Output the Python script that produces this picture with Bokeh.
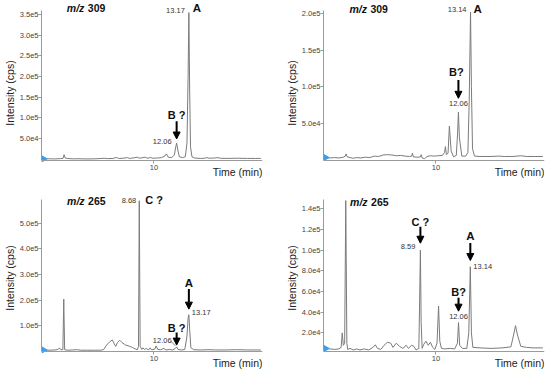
import math
from bokeh.plotting import figure
from bokeh.models import FixedTicker, Label, Arrow, NormalHead, Range1d
from bokeh.layouts import gridplot
from bokeh.embed import file_html
from bokeh.resources import INLINE

# ---------------- data: time (min) and intensity (thousands of cps) ----------------
# top-left: m/z 309
time_309_a = [
    0.0, 0.5, 1.0, 1.5, 1.75, 1.85, 1.95, 2.3, 2.7, 3.2,
    3.8, 4.5, 5.0, 5.5, 5.8, 6.3, 6.6, 6.8, 7.2, 7.6,
    7.8, 8.2, 8.5, 8.7, 9.0, 9.2, 9.4, 9.7, 9.9, 10.3,
    10.7, 11.0, 11.13, 11.3, 11.6, 11.85, 11.98, 12.06, 12.15, 12.3,
    12.6, 12.85, 13.0, 13.1, 13.17, 13.24, 13.32, 13.45, 13.7, 14.2,
    14.6, 14.8, 15.0, 15.5, 15.8, 16.0, 16.8, 17.6, 18.5, 19.2,
    19.7]
kcps_309_a = [
    1.0, 1.2, 0.8, 1.5, 2, 11, 3, 1.5, 1.0, 1.2,
    0.8, 1.0, 1.5, 2.5, 1.5, 2.0, 4.5, 2.0, 2.5, 4.0,
    2.0, 3.5, 5, 2.5, 4, 5, 2.5, 4, 2.5, 3,
    4, 8, 13, 5, 4, 10, 30, 39, 25, 6,
    4, 6, 40, 200, 355, 170, 30, 6, 3, 2,
    2.5, 4, 2.5, 3, 4, 2.5, 2, 2.5, 2, 2,
    2]

# top-right: m/z 309
time_309_b = [
    0.0, 0.4, 0.8, 1.2, 1.6, 1.78, 1.85, 1.95, 2.2, 2.5,
    2.8, 3.2, 3.6, 4.0, 4.4, 4.8, 5.2, 5.6, 6.0, 6.4,
    6.8, 7.2, 7.6, 7.8, 7.87, 7.95, 8.3, 8.6, 8.66, 8.75,
    8.96, 9.2, 9.5, 9.8, 10.2, 10.6, 10.78, 10.86, 10.95, 11.1,
    11.22, 11.38, 11.6, 11.85, 11.96, 12.04, 12.13, 12.35, 12.7, 12.9,
    13.02, 13.14, 13.22, 13.32, 13.5, 14.0, 15.0, 15.7, 16.2, 17.0,
    17.7, 18.2, 19.0, 19.7]
kcps_309_b = [
    3, 2.5, 3, 2.5, 3.5, 5, 8, 4, 3, 2,
    3, 2.5, 3.5, 3, 5, 4.5, 6.5, 7, 6.5, 5.5,
    6, 5, 4.5, 5, 9, 4, 3.5, 4, 7, 2.5,
    1.5, 4.5, 5.5, 5, 5.5, 6, 10, 18, 7, 9,
    46, 12, 4, 6, 35, 65, 30, 5, 5, 10,
    80, 202, 100, 15, 5, 4.5, 4.5, 5, 4.5, 4.5,
    5.5, 4.5, 4.5, 4.5]

# bottom-left: m/z 265
time_265_a = [
    0.0, 0.5, 1.0, 1.3, 1.42, 1.55, 1.74, 1.82, 1.9, 2.2,
    2.6, 3.0, 3.4, 4.0, 4.6, 5.2, 5.45, 5.7, 6.0, 6.23,
    6.4, 6.53, 6.7, 6.89, 7.1, 7.44, 7.8, 8.05, 8.3, 8.5,
    8.6, 8.67, 8.75, 8.9, 9.0, 9.15, 9.3, 9.5, 9.65, 9.8,
    10.1, 10.2, 10.35, 10.6, 10.9, 11.1, 11.4, 11.7, 11.95, 12.06,
    12.18, 12.5, 12.8, 13.0, 13.1, 13.17, 13.25, 13.35, 13.6, 14.2,
    15.0, 15.6, 16.5, 17.5, 18.5, 19.7]
kcps_265_a = [
    6, 5, 6, 8, 14, 7, 7, 204, 7, 5,
    6, 7, 5, 5, 5, 5, 8, 25, 38, 45,
    30, 20, 35, 44, 35, 25, 20, 16, 10, 7,
    20, 587, 20, 8, 14, 8, 12, 6, 14, 6,
    10, 22, 8, 7, 12, 6, 8, 6, 12, 18,
    8, 6, 8, 60, 130, 143, 80, 15, 7, 6,
    7, 6, 6, 7, 6, 6]

# bottom-right: m/z 265
time_265_b = [
    0.0, 0.4, 0.8, 1.2, 1.4, 1.5, 1.6, 1.72, 1.82, 1.92,
    2.0, 2.2, 2.5, 2.8, 3.1, 3.5, 3.9, 4.3, 4.5, 4.7,
    5.0, 5.3, 5.6, 5.9, 6.1, 6.4, 6.7, 7.0, 7.3, 7.5,
    7.8, 8.0, 8.2, 8.45, 8.52, 8.59, 8.66, 8.75, 8.9, 9.1,
    9.3, 9.5, 9.7, 9.9, 10.1, 10.24, 10.35, 10.5, 10.8, 11.3,
    11.7, 11.95, 12.05, 12.15, 12.4, 12.8, 12.98, 13.12, 13.22, 13.35,
    14.0, 15.0, 16.0, 16.8, 17.05, 17.22, 17.4, 17.7, 18.2, 18.8,
    19.7]
kcps_265_b = [
    5, 4.5, 4, 4.5, 6, 20, 8, 10, 148, 10,
    4, 5, 3.5, 4.5, 3.5, 4.5, 3.5, 6, 8.5, 5,
    4, 8, 11, 10, 6, 10, 7, 5, 8, 5,
    8, 7, 3.5, 5, 50, 100, 30, 5, 9, 12,
    8, 11, 6, 4, 10, 46, 12, 5, 4.5, 5,
    4.5, 10, 30, 8, 5, 5, 20, 84, 20, 6,
    5.5, 5, 5.5, 6.5, 18, 27, 18, 7, 6, 5.5,
    5.5]

# y-axis ticks and their labels
yticks_309_a = [50000, 100000, 150000, 200000, 250000, 300000, 350000]
ylabels_309_a = ["5.0e4", "1.0e5", "1.5e5", "2.0e5", "2.5e5", "3.0e5", "3.5e5"]
yticks_309_b = [50000, 100000, 150000, 200000]
ylabels_309_b = ["5.0e4", "1.0e5", "1.5e5", "2.0e5"]
yticks_265_a = [100000, 200000, 300000, 400000, 500000]
ylabels_265_a = ["1.0e5", "2.0e5", "3.0e5", "4.0e5", "5.0e5"]
yticks_265_b = [20000, 40000, 60000, 80000, 100000, 120000, 140000]
ylabels_265_b = ["2.0e4", "4.0e4", "6.0e4", "8.0e4", "1.0e5", "1.2e5", "1.4e5"]
xticks = [10]

FONT = "Liberation Sans"
TRACE = "#7b7b7b"
AXIS = "#9a9a9a"
XR = (-0.2, 19.85)


def panel(t, k, yax, yticks, ylabels, w, h, bl, br, e_top, ax_px):
    y0, y1 = yax
    per_px = (y1 - y0) / ax_px
    e_bot = h - e_top - ax_px
    yr = (y0 - e_bot * per_px, y1 + e_top * per_px)
    p = figure(width=w, height=h, x_range=Range1d(*XR), y_range=Range1d(*yr),
               output_backend="svg", toolbar_location=None,
               min_border_left=bl, min_border_right=br,
               min_border_top=0, min_border_bottom=0)
    p.outline_line_color = None
    p.grid.visible = False
    y = [v * 1000 for v in k]
    p.line(t, y, line_color=TRACE, line_width=1)
    p.scatter([t[0]], [y[0]], marker="triangle", angle=-math.pi / 2,
              size=6, fill_color="#3f9de8", line_color="#3f9de8")

    xa = p.xaxis[0]
    xa.ticker = FixedTicker(ticks=xticks, minor_ticks=[])
    xa.fixed_location = y0
    ya = p.yaxis[0]
    ya.ticker = FixedTicker(ticks=yticks, minor_ticks=[])
    ya.major_label_overrides = dict(zip(yticks, ylabels))
    ya.bounds = (y0, y1)
    for ax in (xa, ya):
        ax.axis_line_color = AXIS
        ax.major_tick_line_color = AXIS
        ax.major_tick_out = 3
        ax.major_tick_in = 0
        ax.minor_tick_out = 0
        ax.minor_tick_in = 0
        ax.major_label_text_font = FONT
        ax.major_label_text_font_size = "7.5px"
        ax.major_label_text_color = "#444444"
        ax.major_label_standoff = 1
    ya.major_label_standoff = 0
    ya.axis_label = "Intensity (cps)"
    ya.axis_label_text_font = FONT
    ya.axis_label_text_font_size = "10.5px"
    ya.axis_label_text_font_style = "normal"
    ya.axis_label_text_color = "#222222"
    ya.axis_label_standoff = 1

    p.add_layout(Label(x=XR[1], y=y0, y_offset=-5, text="Time (min)",
                       text_align="right", text_baseline="top",
                       text_font=FONT, text_font_size="10.5px",
                       text_color="#222222"))
    return p


def mz(p, x, y, num):
    p.add_layout(Label(x=x, y=y, text="m/z", text_font=FONT, text_font_size="10.5px",
                       text_font_style="bold italic", text_baseline="middle",
                       text_color="#111111"))
    p.add_layout(Label(x=x, y=y, x_offset=21, text=num, text_font=FONT,
                       text_font_size="10.5px", text_font_style="bold",
                       text_baseline="middle", text_color="#111111"))


def num(p, x, y, s, align="center", dx=0):
    p.add_layout(Label(x=x, y=y, x_offset=dx, text=s, text_font=FONT,
                       text_font_size="7.5px", text_align=align,
                       text_baseline="middle", text_color="#333333"))


def big(p, x, y, s, align="center", dx=0, size="11px"):
    p.add_layout(Label(x=x, y=y, x_offset=dx, text=s, text_font=FONT,
                       text_font_size=size, text_font_style="bold", text_align=align,
                       text_baseline="middle", text_color="#111111"))


def arrow(p, x, y0, y1):
    p.add_layout(Arrow(end=NormalHead(size=7, fill_color="black", line_color="black",
                                      line_width=1),
                       x_start=x, y_start=y0, x_end=x, y_end=y1,
                       line_width=2, line_color="black"))


W_L, W_R = 280, 267
H_T, H_B = 185, 185

p1 = panel(time_309_a, kcps_309_a, (-3000, 360000), yticks_309_a, ylabels_309_a,
           W_L, H_T, 40, 18, 10, 150)
mz(p1, 2.1, 365000, "309")
num(p1, 13.17, 361000, "13.17", "right", -4)
big(p1, 13.17, 366000, "A", "left", 4, "11.5px")
big(p1, 12.06, 107000, "B ?")
arrow(p1, 12.06, 92000, 49000)
num(p1, 12.06, 44000, "12.06", "right", -5)

p2 = panel(time_309_b, kcps_309_b, (-1000, 204000), yticks_309_b, ylabels_309_b,
           W_R, H_T, 43, 3, 10, 150)
mz(p2, 2.15, 206000, "309")
num(p2, 13.14, 205000, "13.14", "right", -4)
big(p2, 13.14, 206000, "A", "left", 3, "11.5px")
big(p2, 12.04, 120000, "B?", "center", -2)
arrow(p2, 12.04, 109000, 84000)
num(p2, 12.04, 77000, "12.06")

p3 = panel(time_265_a, kcps_265_a, (0, 592000), yticks_265_a, ylabels_265_a,
           W_L, H_B, 40, 18, 14, 152)
mz(p3, 2.12, 587000, "265")
num(p3, 8.67, 590000, "8.68", "right", -3)
big(p3, 8.67, 590000, "C ?", "left", 6)
big(p3, 13.17, 266000, "A", "center", 0, "11.5px")
arrow(p3, 13.17, 243000, 165000)
num(p3, 13.17, 152000, "13.17", "left", 3)
big(p3, 12.06, 93000, "B ?")
arrow(p3, 12.06, 74000, 25000)
num(p3, 12.06, 44000, "12.06", "right", -5)
p3.add_layout(Arrow(end=None, x_start=11.54, y_start=40000, x_end=11.94, y_end=22000,
                    line_width=0.6, line_color="#333333"))

p4 = panel(time_265_b, kcps_265_b, (2000, 149000), yticks_265_b, ylabels_265_b,
           W_R, H_B, 43, 3, 14, 152)
mz(p4, 2.21, 146700, "265")
big(p4, 8.59, 127500, "C ?")
arrow(p4, 8.59, 122700, 106700)
num(p4, 8.59, 103500, "8.59", "right", -5)
big(p4, 13.12, 113700, "A", "center", 0, "11.5px")
arrow(p4, 13.12, 107000, 90000)
num(p4, 13.12, 84000, "13.14", "left", 3)
big(p4, 12.05, 60000, "B?")
arrow(p4, 12.05, 54000, 41000)
num(p4, 12.05, 35600, "12.06")

grid = gridplot([[p1, p2], [p3, p4]], toolbar_location=None)
open("out.html", "w").write(file_html(grid, INLINE))
